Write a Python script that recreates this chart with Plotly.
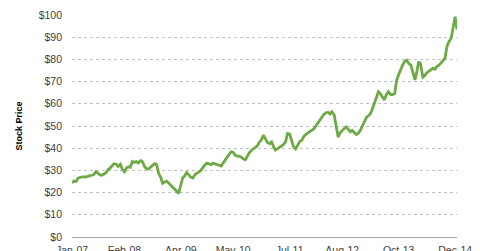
import pandas as pd
import plotly.graph_objects as go

# Semi-monthly stock price readings, Jan 2007 - Dec 2014
dates = pd.date_range("2007-01-01", periods=192, freq="SMS")
prices = [
    24.3, 25.2, 25.0, 26.5, 26.8, 27.0, 27.2, 27.0, 27.4, 27.6,
    27.8, 28.2, 29.4, 28.6, 28.0, 27.8, 28.3, 29.0, 30.4, 31.0,
    32.2, 33.0, 32.8, 31.8, 32.8, 30.6, 29.4, 31.0, 31.6, 31.4,
    34.0, 33.6, 34.0, 33.4, 34.4, 34.0, 31.8, 30.8, 30.6, 31.4,
    32.0, 33.0, 32.6, 28.8, 26.8, 24.2, 24.8, 25.2, 24.2, 23.4,
    22.6, 21.6, 20.6, 19.6, 23.4, 26.6, 27.6, 29.0, 28.0, 27.0,
    26.6, 28.0, 28.8, 29.2, 30.2, 31.5, 32.6, 33.3, 32.8, 32.6,
    33.3, 33.0, 32.8, 32.2, 32.0, 33.4, 34.6, 35.6, 37.0, 38.4,
    38.2, 36.9, 36.4, 36.4, 36.0, 35.2, 34.8, 36.4, 38.0, 39.0,
    39.8, 40.7, 41.2, 42.8, 43.8, 45.9, 44.2, 42.6, 42.0, 42.8,
    40.8, 39.2, 39.8, 40.4, 40.7, 41.6, 43.0, 46.6, 46.4, 44.0,
    40.4, 39.6, 41.2, 43.0, 43.6, 45.2, 46.2, 46.8, 47.6, 48.2,
    48.8, 50.0, 51.4, 52.6, 53.6, 55.2, 56.0, 56.2, 55.4, 56.4,
    55.0, 50.0, 45.0, 46.8, 48.0, 48.8, 49.6, 48.4, 47.4, 48.0,
    47.2, 46.2, 46.8, 48.0, 50.2, 51.8, 54.0, 54.6, 55.4, 57.4,
    60.0, 62.4, 65.4, 64.6, 62.8, 61.7, 64.2, 65.4, 64.2, 64.2,
    64.6, 70.5, 73.2, 75.5, 77.6, 79.0, 79.6, 78.2, 77.4, 74.5,
    70.8, 74.5, 79.0, 78.0, 72.0, 72.6, 74.0, 74.6, 75.2, 76.0,
    75.6, 76.8, 77.4, 78.4, 79.2, 80.4, 86.0, 88.0, 89.5, 94.5,
    99.2, 93.5,
]

tick_dates = ["2007-01-01", "2008-02-01", "2009-04-01", "2010-05-01",
              "2011-07-01", "2012-08-01", "2013-10-01", "2014-12-01"]
tick_labels = ["Jan-07", "Feb-08", "Apr-09", "May-10",
               "Jul-11", "Aug-12", "Oct-13", "Dec-14"]
y_ticks = list(range(0, 101, 10))

font = "Arial, Liberation Sans, sans-serif"

fig = go.Figure(go.Scatter(
    x=dates, y=prices, mode="lines",
    line=dict(color="#6DAA45", width=2.8),
    hoverinfo="skip",
))

fig.update_layout(
    width=480, height=251,
    margin=dict(l=72, r=23, t=15, b=14),
    paper_bgcolor="white", plot_bgcolor="white",
    showlegend=False,
    font=dict(family=font, size=10, color="#404040"),
)
fig.update_xaxes(
    range=["2007-01-01", "2014-12-15"],
    tickvals=tick_dates, ticktext=tick_labels,
    showgrid=False, zeroline=False,
    showline=True, linecolor="#a6a6a6", linewidth=1,
    ticks="", ticklabelstandoff=3, automargin=False,
    tickfont=dict(size=10.5, color="#404040"),
)
fig.update_yaxes(
    range=[0, 100], tickvals=y_ticks,
    ticktext=["$%d" % v for v in y_ticks],
    showgrid=True, gridcolor="#bfbfbf", griddash="dot", gridwidth=1,
    zeroline=False, showline=False, ticks="",
    ticklabelstandoff=9, automargin=False,
    tickfont=dict(size=10.5, color="#404040"),
    title=dict(text="<b>Stock Price</b>", font=dict(size=9, color="#000000"),
               standoff=14),
)

fig.write_html("out.html")
